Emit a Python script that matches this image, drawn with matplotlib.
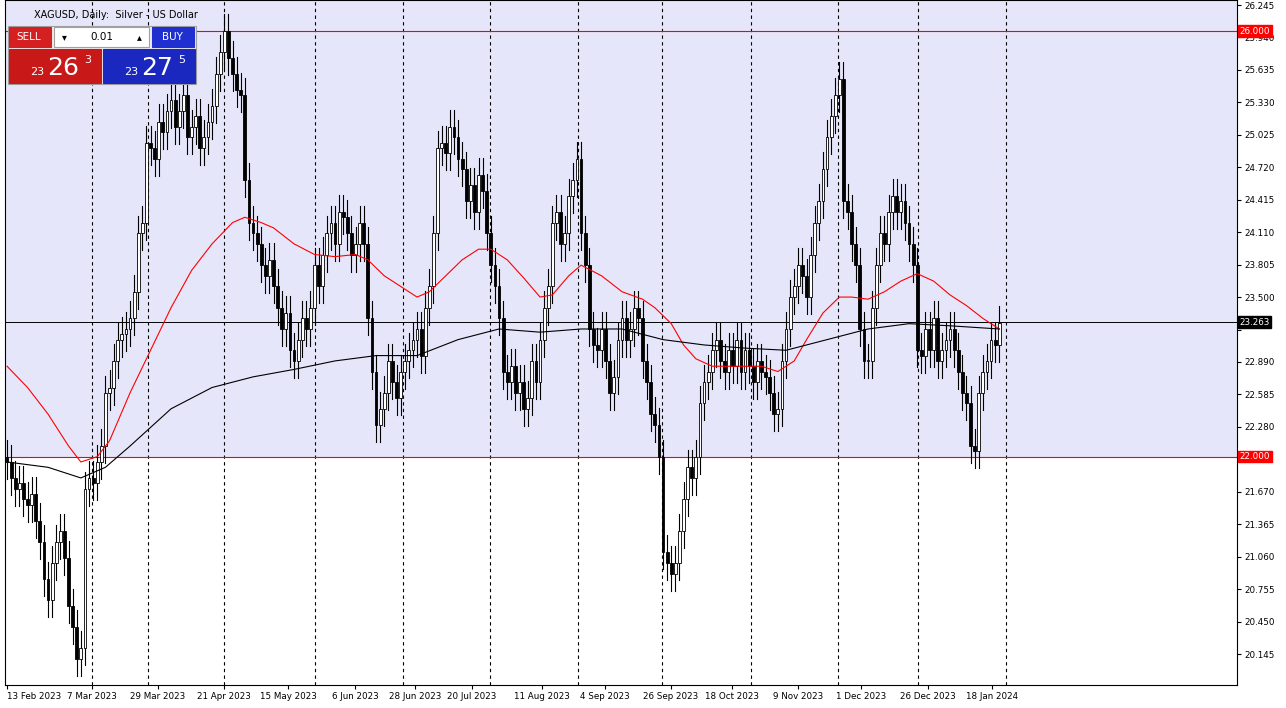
import matplotlib
matplotlib.use("Agg")
import matplotlib.pyplot as plt
from matplotlib.patches import Rectangle

closes = [21.95,21.80,21.70,21.75,21.60,21.55,21.65,21.40,21.20,20.85,
20.65,21.00,21.20,21.30,21.05,20.60,20.40,20.10,20.20,21.70,
21.80,21.75,21.95,22.10,22.60,22.65,22.90,23.10,23.15,23.20,
23.30,23.55,24.10,24.20,24.95,24.90,24.80,25.15,25.05,25.25,
25.35,25.10,25.25,25.40,25.00,25.10,25.20,24.90,25.00,25.15,
25.30,25.60,25.80,26.00,25.75,25.60,25.45,25.40,24.60,24.20,
24.10,24.00,23.80,23.70,23.85,23.60,23.40,23.20,23.35,23.00,
22.90,23.10,23.30,23.20,23.40,23.80,23.60,23.90,24.10,24.20,
24.00,24.30,24.25,24.10,23.90,24.00,24.20,24.00,23.30,22.80,
22.30,22.45,22.60,22.90,22.70,22.55,22.80,22.90,23.00,23.10,
23.20,22.95,23.40,23.60,24.10,24.90,24.95,24.85,25.10,25.00,
24.80,24.70,24.40,24.55,24.30,24.65,24.50,24.10,23.80,23.60,
23.30,22.80,22.70,22.85,22.60,22.70,22.45,22.55,22.90,22.70,
23.10,23.40,23.60,24.20,24.30,24.00,24.10,24.45,24.60,24.80,
24.10,23.80,23.20,23.05,23.00,23.20,22.90,22.60,22.75,23.10,
23.30,23.10,23.20,23.40,23.30,22.90,22.70,22.40,22.30,22.00,
21.10,21.00,20.90,21.00,21.30,21.60,21.90,21.80,22.00,22.50,
22.70,22.80,23.00,23.10,22.90,22.80,23.00,22.85,23.10,22.80,
23.00,22.85,22.70,22.90,22.80,22.75,22.60,22.40,22.45,22.90,
23.20,23.50,23.60,23.80,23.70,23.50,23.90,24.20,24.40,24.70,
25.00,25.20,25.40,25.55,24.40,24.30,24.00,23.80,23.20,22.90,
22.90,23.40,23.80,24.10,24.00,24.30,24.45,24.30,24.40,24.20,
24.00,23.80,23.00,22.95,23.20,23.00,23.30,22.90,23.00,23.10,
23.20,23.00,22.80,22.60,22.50,22.10,22.05,22.60,22.80,22.90,
23.10,23.05,23.26]
first_open = 22.00
wick = 0.16

red_ma_idx = [0,5,10,15,18,22,25,30,35,40,45,50,55,58,62,65,70,75,80,85,88,92,96,100,103,107,111,115,118,122,126,130,133,137,140,145,150,155,158,162,165,168,172,176,180,184,188,192,195,199,203,206,210,214,218,222,226,230,234,238,242]
red_ma_val = [22.85,22.65,22.4,22.1,21.95,22.0,22.15,22.6,23.0,23.4,23.75,24.0,24.2,24.25,24.2,24.15,24.0,23.9,23.88,23.9,23.85,23.7,23.6,23.5,23.55,23.7,23.85,23.95,23.95,23.85,23.68,23.5,23.52,23.7,23.8,23.7,23.55,23.48,23.4,23.25,23.05,22.92,22.85,22.85,22.85,22.85,22.8,22.9,23.1,23.35,23.5,23.5,23.48,23.55,23.65,23.72,23.65,23.52,23.42,23.3,23.2]
blk_ma_idx = [0,10,18,24,30,40,50,60,70,80,90,100,110,120,130,140,150,160,170,180,190,200,210,220,230,242]
blk_ma_val = [21.95,21.9,21.8,21.9,22.1,22.45,22.65,22.75,22.82,22.9,22.95,22.95,23.1,23.2,23.17,23.2,23.2,23.1,23.05,23.02,23.0,23.1,23.2,23.25,23.23,23.2]

grid_px = [90,146,222,313,401,488,576,660,749,836,916,1004]
label_px = [5,90,156,222,286,353,413,470,540,603,669,730,796,859,926,990]
label_txt = ["13 Feb 2023","7 Mar 2023","29 Mar 2023","21 Apr 2023","15 May 2023","6 Jun 2023",
             "28 Jun 2023","20 Jul 2023","11 Aug 2023","4 Sep 2023","26 Sep 2023","18 Oct 2023",
             "9 Nov 2023","1 Dec 2023","26 Dec 2023","18 Jan 2024"]
support, resistance, last_price = 22.0, 26.0, 23.263
yticks = [26.245,25.940,25.635,25.330,25.025,24.720,24.415,24.110,23.805,23.500,23.195,22.890,
          22.585,22.280,21.975,21.670,21.365,21.060,20.755,20.450,20.145]

PX = 4.1  # pixels per bar
def px2idx(p):
    return (p - 5) / PX

fig = plt.figure(figsize=(12.86,7.08), dpi=100)
ax = fig.add_axes([5/1286, 23/708, 1232/1286, 685/708])
ymin, ymax = 19.854, 26.292
xmin, xmax = px2idx(5) - 0.5, px2idx(1237) - 0.5
ax.set_xlim(xmin, xmax); ax.set_ylim(ymin, ymax)
ax.add_patch(Rectangle((xmin, support), xmax-xmin, ymax-support, color="#e6e6fa", zorder=0, lw=0))
for g in grid_px:
    ax.axvline(px2idx(g), color="black", ls=(0,(3,3)), lw=0.8, zorder=1)

opens = [first_open] + closes[:-1]
for i,(o,c) in enumerate(zip(opens,closes)):
    hi, lo = max(o,c)+wick, min(o,c)-wick
    ax.plot([i,i],[lo,hi], color="black", lw=0.8, zorder=3)
    fc = "white" if c >= o else "black"
    h = max(abs(c-o), 0.01)
    ax.add_patch(Rectangle((i-0.35, min(o,c)), 0.7, h, facecolor=fc, edgecolor="black", lw=0.6, zorder=4))

ax.plot(red_ma_idx, red_ma_val, color="red", lw=0.8, zorder=5)
ax.plot(blk_ma_idx, blk_ma_val, color="black", lw=0.8, zorder=5)
ax.axhline(resistance, color="red", lw=0.8, zorder=2)
ax.axhline(support, color="red", lw=0.8, zorder=2)
ax.axhline(last_price, color="black", lw=0.7, zorder=2)

ax.set_xticks([px2idx(p) for p in label_px])
ax.set_xticklabels(label_txt, fontsize=6.3)
for k, t in enumerate(ax.get_xticklabels()):
    t.set_ha("left" if k == 0 else "center")
ax.tick_params(axis="x", length=3, pad=2)
ax.yaxis.tick_right()
ax.set_yticks(yticks)
ax.set_yticklabels([f"{v:.3f}" for v in yticks], fontsize=6.3)
for t, v in zip(ax.get_yticklabels(), yticks):
    if abs(v - support) < 0.06 or abs(v - last_price) < 0.08:
        t.set_visible(False)
ax.tick_params(axis="y", length=3, pad=2)
for sp in ax.spines.values():
    sp.set_linewidth(0.8)

def tag(y, txt, bg, fg):
    ax.annotate(txt, xy=(1.0, y), xycoords=("axes fraction","data"), xytext=(2,0), textcoords="offset points",
                fontsize=6.3, color=fg, va="center", ha="left",
                bbox=dict(boxstyle="square,pad=0.15", fc=bg, ec=bg), annotation_clip=False, zorder=10)
tag(resistance, "26.000", "red", "white")
tag(support, "22.000", "red", "white")
tag(last_price, "23.263", "black", "white")

fig.text(34/1286, 1-15/708, "XAGUSD, Daily:  Silver - US Dollar", fontsize=7, va="center")
def frect(x, y, w, h, c, ec=None):
    fig.add_artist(Rectangle((x/1286, 1-(y+h)/708), w/1286, h/708, transform=fig.transFigure,
                             facecolor=c, edgecolor=ec or c, lw=0.8))
frect(8, 26, 188, 58, "#f0f0f0", "#a0a0a0")
frect(9, 27, 42, 20, "#d42020"); fig.text(29/1286, 1-37/708, "SELL", color="white", fontsize=7.5, ha="center", va="center")
frect(152, 27, 42, 20, "#2030d0"); fig.text(172/1286, 1-37/708, "BUY", color="white", fontsize=7.5, ha="center", va="center")
frect(54, 27, 95, 20, "white", "#a0a0a0")
fig.text(102/1286, 1-37/708, "0.01", fontsize=7.5, ha="center", va="center")
fig.text(64/1286, 1-37/708, "▾", fontsize=7, ha="center", va="center")
fig.text(139/1286, 1-37/708, "▴", fontsize=7, ha="center", va="center")
frect(9, 49, 92, 34, "#c81818"); frect(103, 49, 92, 34, "#1a28c0")
fig.text(30/1286, 1-72/708, "23", color="white", fontsize=8, va="center")
fig.text(47/1286, 1-68/708, "26", color="white", fontsize=18, va="center")
fig.text(84/1286, 1-60/708, "3", color="white", fontsize=8, va="center")
fig.text(124/1286, 1-72/708, "23", color="white", fontsize=8, va="center")
fig.text(141/1286, 1-68/708, "27", color="white", fontsize=18, va="center")
fig.text(178/1286, 1-60/708, "5", color="white", fontsize=8, va="center")

fig.savefig("out.png", dpi=100)
